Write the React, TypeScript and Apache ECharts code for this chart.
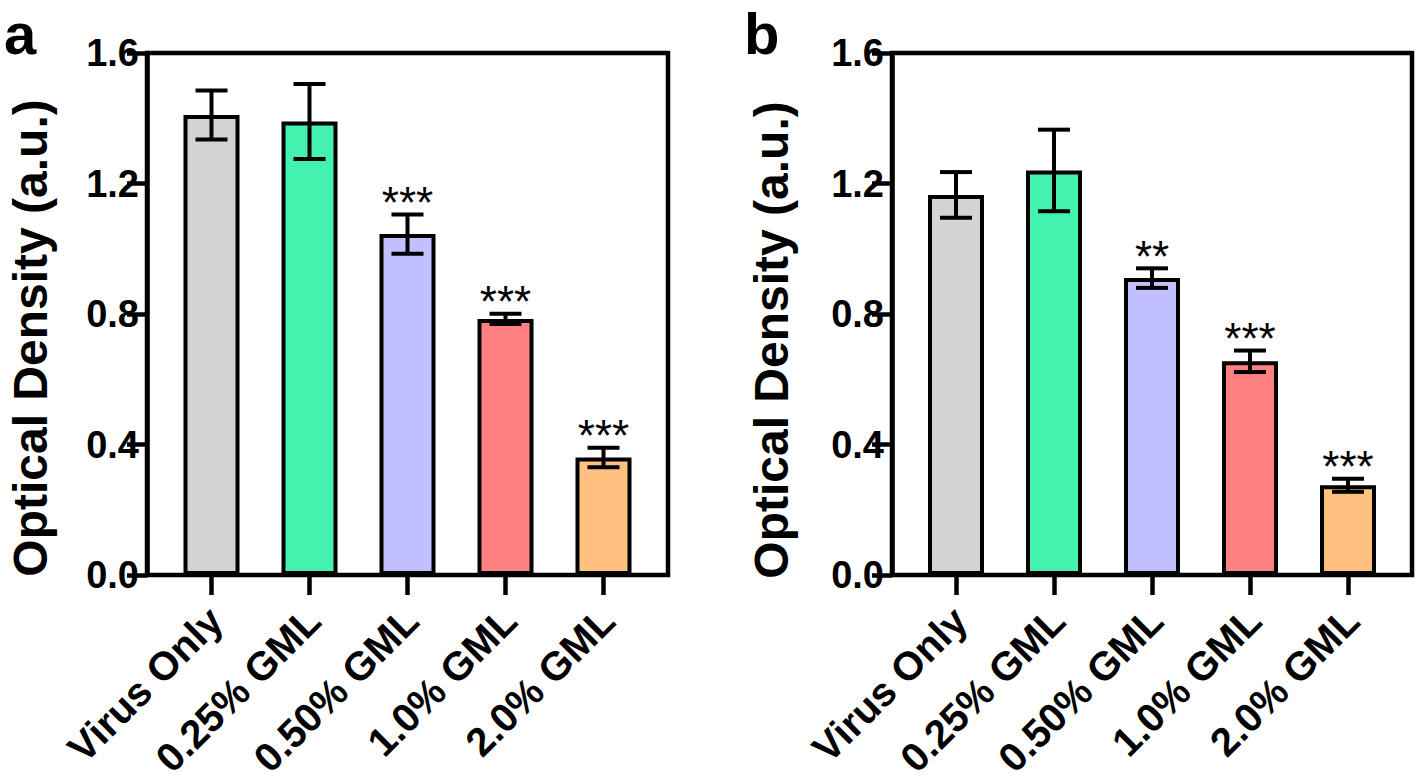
import React, { useEffect, useRef } from 'react';
import * as echarts from 'echarts';

const categories = ['Virus Only', '0.25% GML', '0.50% GML', '1.0% GML', '2.0% GML'];
const barColors = ['#D3D3D3', '#44F2B0', '#C0C0FF', '#FF8080', '#FFC080'];

const meansA = [1.41, 1.39, 1.045, 0.785, 0.36];
const errsA = [0.075, 0.115, 0.06, 0.016, 0.03];
const sigA = ['', '', '***', '***', '***'];

const meansB = [1.165, 1.24, 0.91, 0.655, 0.275];
const errsB = [0.07, 0.125, 0.03, 0.033, 0.02];
const sigB = ['', '', '**', '***', '***'];

const yMin = 0;
const yMax = 1.6;
const yStep = 0.4;
const yTitle = 'Optical Density (a.u.)';
const panelLetters = ['a', 'b'];

const FONT = '"Liberation Sans", Arial, Helvetica, sans-serif';
const LW = 4.5;
const TOP = 53;
const HEIGHT = 522;
const BAND_TOTAL = 490;
const LABEL_DX = 4;

function buildPanel(p: number, frameLeft: number, frameWidth: number, means: number[], errs: number[], sigs: string[]) {
  const g0 = p * 3;
  const innerLeft = frameLeft + (frameWidth - BAND_TOTAL) / 2;
  const grids = [
    { left: frameLeft, top: TOP, width: frameWidth, height: HEIGHT, show: true, borderColor: '#000', borderWidth: LW, backgroundColor: 'transparent', containLabel: false },
    { left: innerLeft, top: TOP, width: BAND_TOTAL, height: HEIGHT, containLabel: false },
    { left: innerLeft + LABEL_DX, top: TOP, width: BAND_TOTAL, height: HEIGHT, containLabel: false },
  ];
  const xAxes = [
    { type: 'value', gridIndex: g0, show: false, min: 0, max: 1 },
    {
      type: 'category', gridIndex: g0 + 1, data: categories,
      axisLine: { show: false },
      axisTick: { show: true, alignWithLabel: true, length: 20, lineStyle: { color: '#000', width: LW } },
      axisLabel: { show: false },
    },
    {
      type: 'category', gridIndex: g0 + 2, data: categories,
      axisLine: { show: false }, axisTick: { show: false },
      axisLabel: { show: true, rotate: 45, interval: 0, margin: 46, fontSize: 40, fontWeight: 'bold', color: '#000', fontFamily: FONT },
    },
  ];
  const yAxes = [
    {
      type: 'value', gridIndex: g0, min: yMin, max: yMax, interval: yStep,
      axisLine: { show: true, lineStyle: { color: '#000', width: LW } },
      axisTick: { show: true, length: 20, lineStyle: { color: '#000', width: LW } },
      axisLabel: { fontSize: 38, fontWeight: 'bold', color: '#000', margin: 8, fontFamily: FONT, formatter: (v: number) => v.toFixed(1) },
      splitLine: { show: false },
    },
    { type: 'value', gridIndex: g0 + 1, min: yMin, max: yMax, show: false },
    { type: 'value', gridIndex: g0 + 2, min: yMin, max: yMax, show: false },
  ];
  const series = [
    {
      type: 'bar', xAxisIndex: g0 + 1, yAxisIndex: g0 + 1, barWidth: 56, z: 2,
      data: means.map((m, i) => ({ value: m, itemStyle: { color: barColors[i], borderColor: '#000', borderWidth: 4 } })),
    },
    {
      type: 'custom', xAxisIndex: g0 + 1, yAxisIndex: g0 + 1, z: 5,
      data: means.map((m, i) => [i, m, errs[i]]),
      renderItem: (params: any, api: any) => {
        const i = api.value(0);
        const m = api.value(1);
        const e = api.value(2);
        const hi = api.coord([i, m + e]);
        const lo = api.coord([i, m - e]);
        const hw = 16;
        const st = { stroke: '#000', lineWidth: 4 };
        const children: any[] = [
          { type: 'line', shape: { x1: hi[0], y1: hi[1], x2: lo[0], y2: lo[1] }, style: st },
          { type: 'line', shape: { x1: hi[0] - hw, y1: hi[1], x2: hi[0] + hw, y2: hi[1] }, style: st },
          { type: 'line', shape: { x1: lo[0] - hw, y1: lo[1], x2: lo[0] + hw, y2: lo[1] }, style: st },
        ];
        const s = sigs[params.dataIndex];
        if (s) {
          children.push({
            type: 'text',
            style: { text: s, x: hi[0], y: hi[1] - 12, align: 'center', verticalAlign: 'middle', fontSize: 44, fontFamily: FONT, fill: '#000' },
          });
        }
        return { type: 'group', children };
      },
    },
  ];
  return { grids, xAxes, yAxes, series };
}

export default function App() {
  const ref = useRef<HTMLDivElement>(null);
  useEffect(() => {
    if (!ref.current) return;
    const chart = echarts.init(ref.current, undefined, { renderer: 'svg' });
    const a = buildPanel(0, 147, 521, meansA, errsA, sigA);
    const b = buildPanel(1, 892, 520, meansB, errsB, sigB);
    const option: any = {
      animation: false,
      backgroundColor: '#fff',
      grid: [...a.grids, ...b.grids],
      xAxis: [...a.xAxes, ...b.xAxes],
      yAxis: [...a.yAxes, ...b.yAxes],
      series: [...a.series, ...b.series],
      graphic: [
        { type: 'text', x: 4, y: 61, style: { text: panelLetters[0], fontSize: 58, lineHeight: 56, fontWeight: 'bold', fontFamily: FONT, fill: '#000', verticalAlign: 'bottom' } },
        { type: 'text', x: 744, y: 61, style: { text: panelLetters[1], fontSize: 58, lineHeight: 56, fontWeight: 'bold', fontFamily: FONT, fill: '#000', verticalAlign: 'bottom' } },
        { type: 'text', x: 30, y: 338, rotation: Math.PI / 2, style: { text: yTitle, fontSize: 48, fontWeight: 'bold', fontFamily: FONT, fill: '#000', align: 'center', verticalAlign: 'middle' } },
        { type: 'text', x: 771, y: 340, rotation: Math.PI / 2, style: { text: yTitle, fontSize: 48, fontWeight: 'bold', fontFamily: FONT, fill: '#000', align: 'center', verticalAlign: 'middle' } },
      ],
    };
    chart.setOption(option);
    return () => chart.dispose();
  }, []);
  return <div ref={ref} style={{ position: 'absolute', left: 0, top: 0, width: 1418, height: 781 }} />;
}
